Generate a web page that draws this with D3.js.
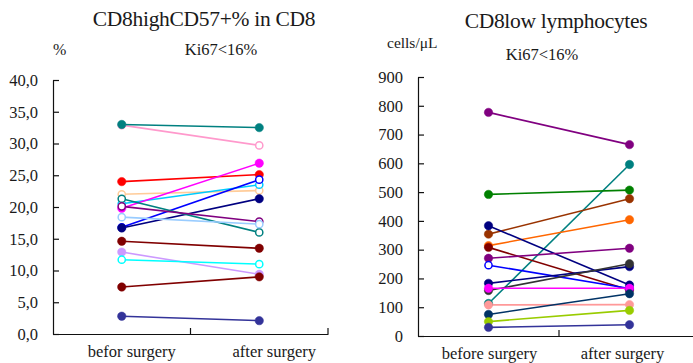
<!DOCTYPE html>
<html><head><meta charset="utf-8">
<script src="https://cdn.jsdelivr.net/npm/d3@7"></script>
<style>
html,body{margin:0;padding:0;background:#fff;}
</style></head>
<body><svg id="c" width="693" height="363"></svg>
<script>
const FONT = '"Liberation Serif", Tinos, "Times New Roman", Times, "DejaVu Serif", serif';
// ---- data ----
const leftCategories = ["befor surgery", "after surgery"];
const rightCategories = ["before surgery", "after surgery"];
const leftTicks = [0, 5, 10, 15, 20, 25, 30, 35, 40];
const rightTicks = [0, 100, 200, 300, 400, 500, 600, 700, 800, 900];

// left: CD8highCD57+% in CD8  [before, after]
const leftColors = ["#FF99CC","#008080","#FF0000","#FFCC99","#00CCFF","#FF00FF","#0000FF","#000080","#008080","#800080","#99CCFF","#800000","#CC99FF","#00FFFF","#800000","#333399"];
const leftOpen   = [true,false,false,true,true,false,true,false,true,true,true,false,false,true,false,false];
const leftBefore = [32.9,33.0,24.0,22.0,20.5,19.8,16.8,16.7,21.3,20.1,18.4,14.6,12.9,11.7,7.4,2.8];
const leftAfter  = [29.7,32.5,25.1,22.6,23.5,26.9,24.3,21.3,16.0,17.7,17.3,13.5,9.4,11.0,9.0,2.1];

// right: CD8low lymphocytes cells/µL  [before, after]
const rightColors = ["#008080","#800080","#008000","#993300","#FF6600","#000080","#800000","#800080","#0000FF","#000080","#333333","#FF00FF","#FF9999","#003366","#99CC00","#333399"];
const rightOpen   = [false,false,false,false,false,false,false,false,true,false,false,false,false,false,false,false];
const rightBefore = [113,777,492,354,314,383,308,270,246,183,158,166,108,75,50,30];
const rightAfter  = [596,665,507,477,404,177,160,305,165,241,251,166,109,147,89,39];

const svg = d3.select("#c");

function txt(sel){ return sel.attr("font-family", FONT).style("font-family", FONT).attr("fill","#1a1a1a"); }

function panel(o){
  const g = svg.append("g");
  const y = d3.scaleLinear().domain(o.domain).range([o.y0, o.y1]);
  const x = d3.scaleBand().domain(o.cats).range([o.x0, o.x1]);
  const ya = d3.axisLeft(y).tickValues(o.ticks).tickSizeInner(-6).tickSizeOuter(0).tickPadding(15).tickFormat(o.fmt);
  const yg = g.append("g").attr("transform", `translate(${o.x0},0)`).call(ya);
  yg.attr("font-family", FONT);
  yg.select(".domain").attr("stroke","#111").attr("stroke-width",1.2);
  yg.selectAll(".tick line").attr("stroke","#111").attr("stroke-width",1.2);
  txt(yg.selectAll(".tick text")).attr("font-size", o.tickFs);
  const xa = d3.axisBottom(x).tickSize(0).tickFormat("");
  const xg = g.append("g").attr("transform", `translate(0,${o.y0})`).call(xa);
  xg.select(".domain").attr("stroke","#111").attr("stroke-width",1.2);
  xg.selectAll(".tick").remove();
  o.cats.forEach((c,i)=>{
    const bx = x(c) + x.bandwidth();
    g.append("line").attr("x1",bx).attr("x2",bx).attr("y1",o.y0).attr("y2",o.y0-6).attr("stroke","#111").attr("stroke-width",1.2);
    txt(g.append("text")).attr("x", x(c)+x.bandwidth()/2 + o.labOff[i]).attr("y", o.y0+23)
      .attr("text-anchor","middle").attr("font-size",o.labFs).text(c);
  });
  const cx = i => x(o.cats[i]) + x.bandwidth()/2;
  o.before.forEach((b,i)=>{
    g.append("line").attr("x1",cx(0)).attr("x2",cx(1)).attr("y1",y(b)).attr("y2",y(o.after[i]))
      .attr("stroke",o.colors[i]).attr("stroke-width",1.6);
  });
  o.before.forEach((b,i)=>{
    [b, o.after[i]].forEach((v,j)=>{
      g.append("circle").attr("cx",cx(j)).attr("cy",y(v)).attr("r", o.open[i]?3.6:4.2)
        .attr("fill", o.open[i]?"#fff":o.colors[i])
        .attr("stroke", o.colors[i]).attr("stroke-width", o.open[i]?1.5:0.5);
    });
  });
  return g;
}

panel({domain:[0,40], ticks:leftTicks, fmt:d=>d3.format(".1f")(d).replace(".",","),
  x0:53, x1:328, y0:334, y1:80, cats:leftCategories, labOff:[10,15],
  tickFs:"16.5px", labFs:"16.5px",
  colors:leftColors, open:leftOpen, before:leftBefore, after:leftAfter});

panel({domain:[0,900], ticks:rightTicks, fmt:d3.format("d"),
  x0:418, x1:700, y0:336, y1:77, cats:rightCategories, labOff:[1,-7],
  tickFs:"16.5px", labFs:"16.5px",
  colors:rightColors, open:rightOpen, before:rightBefore, after:rightAfter});

txt(svg.append("text")).attr("x",204).attr("y",26).attr("text-anchor","middle").attr("font-size","21.5px").attr("letter-spacing","-0.3px").text("CD8highCD57+% in CD8");
txt(svg.append("text")).attr("x",53).attr("y",55).attr("font-size","16px").text("%");
txt(svg.append("text")).attr("x",221).attr("y",55).attr("text-anchor","middle").attr("font-size","16.5px").text("Ki67<16%");

txt(svg.append("text")).attr("x",556).attr("y",28).attr("text-anchor","middle").attr("font-size","21.5px").attr("letter-spacing","-0.3px").text("CD8low lymphocytes");
txt(svg.append("text")).attr("x",387).attr("y",48).attr("font-size","15.5px").text("cells/μL");
txt(svg.append("text")).attr("x",542).attr("y",60).attr("text-anchor","middle").attr("font-size","16.5px").text("Ki67<16%");
</script></body></html>
